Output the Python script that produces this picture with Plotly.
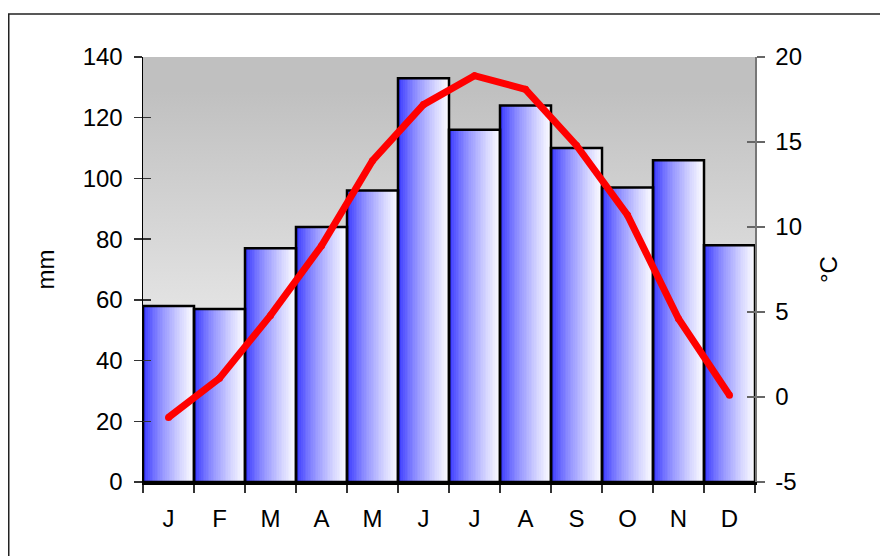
import base64
import plotly.graph_objects as go

# ---- data ----
months = ["Jan", "Feb", "Mar", "Apr", "May", "Jun", "Jul", "Aug", "Sep", "Oct", "Nov", "Dec"]
month_labels = ["J", "F", "M", "A", "M", "J", "J", "A", "S", "O", "N", "D"]
precip_mm = [58, 57, 77, 84, 96, 133, 116, 124, 110, 97, 106, 78]
temp_c = [-1.2, 1.1, 4.8, 8.9, 13.9, 17.2, 18.9, 18.1, 14.8, 10.7, 4.6, 0.1]
mm_ticks = [0, 20, 40, 60, 80, 100, 120, 140]
c_ticks = [-5, 0, 5, 10, 15, 20]
c_tick_labels = ["-5", "0", "5", "10", "15", "20"]

FONT = "Liberation Sans, Arial, sans-serif"
fig = go.Figure()

# gradient-filled bars built from narrow strips of the same bars
N = 30
for i in range(N):
    t = (i + 0.5) / N
    c = int(round(40 + 215 * (t ** 0.7)))
    w = 1.0 / N if i == N - 1 else 1.4 / N
    fig.add_trace(go.Bar(
        x=months, y=precip_mm, width=w, offset=-0.5 + i / N,
        marker=dict(color=f"rgb({c},{c},255)", line=dict(width=0)),
        hoverinfo="skip", showlegend=False, yaxis="y",
    ))

# bar outlines
fig.add_trace(go.Bar(
    x=months, y=precip_mm, width=1, offset=-0.5,
    marker=dict(color="rgba(0,0,0,0)", line=dict(color="black", width=2.5)),
    hoverinfo="skip", showlegend=False, yaxis="y2",
))

# dummy for inner right ticks
fig.add_trace(go.Scatter(x=[months[0]], y=[0], mode="markers",
                         marker=dict(opacity=0), hoverinfo="skip",
                         showlegend=False, yaxis="y3"))

# temperature line
fig.add_trace(go.Scatter(
    x=months, y=temp_c, mode="lines+markers",
    line=dict(color="#FF0000", width=7),
    marker=dict(color="#FF0000", size=7, line=dict(width=0)),
    hoverinfo="skip", showlegend=False, yaxis="y4",
))

svg = ('<svg xmlns="http://www.w3.org/2000/svg" width="10" height="100" preserveAspectRatio="none">'
       '<defs><linearGradient id="g" x1="0" y1="0" x2="0" y2="1">'
       '<stop offset="0" stop-color="#C0C0C0"/><stop offset="0.08" stop-color="#C0C0C0"/>'
       '<stop offset="1" stop-color="#FFFFFF"/></linearGradient></defs>'
       '<rect width="10" height="100" fill="url(#g)"/></svg>')
src = "data:image/svg+xml;base64," + base64.b64encode(svg.encode()).decode()

# page has an 8px body margin, so figure coords = page coords - 8
W, H = 880, 548
L, T = 135, 49
R = W - 747
B = H - 474
pw, ph = W - L - R, H - T - B

tickfont = dict(family=FONT, size=24, color="black")
titlefont = dict(family=FONT, size=24, color="black")

fig.update_layout(
    width=W, height=H,
    margin=dict(l=L, r=R, t=T, b=B, autoexpand=False),
    paper_bgcolor="white", plot_bgcolor="rgba(0,0,0,0)",
    barmode="overlay", bargap=0,
    font=dict(family=FONT, size=24, color="black"),
    images=[dict(source=src, xref="paper", yref="paper", x=0, y=1, sizex=1, sizey=1,
                 sizing="stretch", layer="below", xanchor="left", yanchor="top")],
    xaxis=dict(type="category", categoryorder="array", categoryarray=months,
               range=[-0.5, 11.5], tickmode="array", tickvals=months, ticktext=month_labels,
               tickson="boundaries", ticks="outside", ticklen=8, tickwidth=1.5,
               tickcolor="#333333", showline=True, linecolor="black", linewidth=2.5,
               showgrid=False, zeroline=False, tickfont=tickfont, ticklabelstandoff=14,
               fixedrange=True),
    yaxis=dict(range=[0, 140], tickmode="array", tickvals=mm_ticks, ticks="outside",
               ticklen=8, tickwidth=1.5, tickcolor="#333333", showline=True,
               linecolor="black", linewidth=1.5, showgrid=False, zeroline=False,
               tickfont=tickfont, ticklabelstandoff=6,
               title=dict(text="mm", font=titlefont, standoff=21),
               automargin=False, fixedrange=True),
    yaxis2=dict(range=[0, 140], overlaying="y", side="left", tickmode="array",
                tickvals=mm_ticks, ticks="inside", ticklen=8, tickwidth=1.5,
                tickcolor="#333333", showticklabels=False, showline=False,
                showgrid=False, zeroline=False, fixedrange=True),
    yaxis3=dict(range=[-5, 20], overlaying="y", side="right", tickmode="array",
                tickvals=c_ticks, ticks="inside", ticklen=8, tickwidth=1.5,
                tickcolor="#666666", showticklabels=False, showline=False,
                showgrid=False, zeroline=False, fixedrange=True),
    yaxis4=dict(range=[-5, 20], overlaying="y", side="right", tickmode="array",
                tickvals=c_ticks, ticktext=c_tick_labels, ticks="outside", ticklen=8,
                tickwidth=1.5, tickcolor="#666666", showline=True, linecolor="#777777",
                linewidth=1.5, showgrid=False, zeroline=False, tickfont=tickfont,
                ticklabelstandoff=6,
                title=dict(text="°C", font=titlefont, standoff=19),
                automargin=False, fixedrange=True),
    shapes=[dict(type="rect", xref="paper", yref="paper",
                 x0=(0.75 - L) / pw, x1=2.0, y0=-1.0, y1=(H - B - 6) / ph,
                 line=dict(color="#222222", width=1.5), fillcolor="rgba(0,0,0,0)",
                 layer="above")],
)

fig.write_html("out.html", config=dict(displayModeBar=False, staticPlot=True))
